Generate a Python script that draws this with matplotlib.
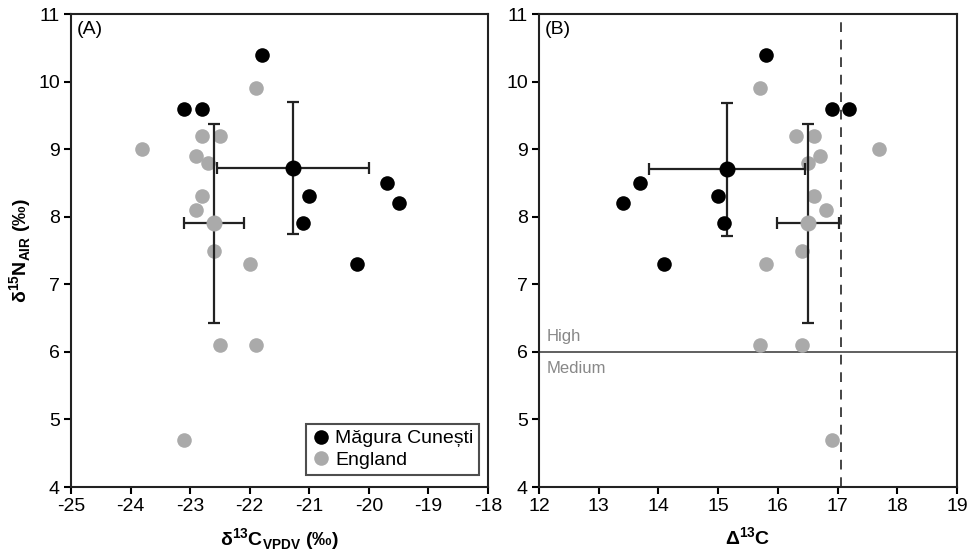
import matplotlib
matplotlib.use("Agg")
import matplotlib.pyplot as plt
from matplotlib.lines import Line2D

plt.rcParams['font.family'] = ['Liberation Sans', 'DejaVu Sans']
plt.rcParams['mathtext.fontset'] = 'custom'
plt.rcParams['mathtext.rm'] = 'Liberation Sans'
plt.rcParams['mathtext.bf'] = 'Liberation Sans:bold'
plt.rcParams['axes.unicode_minus'] = False

# Magura Cunesti (black) individuals
mc_d13c = [-21.8, -23.1, -22.8, -19.7, -21.0, -19.5, -21.1, -20.2]
mc_cap = [15.8, 16.9, 17.2, 13.7, 15.0, 13.4, 15.1, 14.1]
mc_d15n = [10.4, 9.6, 9.6, 8.5, 8.3, 8.2, 7.9, 7.3]

# England (grey) individuals
en_d13c = [-21.9, -23.8, -22.8, -22.5, -22.9, -22.7, -22.8, -22.9, -22.6, -22.0, -22.5, -21.9, -23.1]
en_d15n = [9.9, 9.0, 9.2, 9.2, 8.9, 8.8, 8.3, 8.1, 7.5, 7.3, 6.1, 6.1, 4.7]
en_cap = [15.7, 17.7, 16.3, 16.6, 16.7, 16.5, 16.6, 16.8, 16.4, 15.8, 15.7, 16.4, 16.9]

# group means +/- sd  (x, y, xerr, yerr)
mc_mean_a = (-21.27, 8.72, 1.27, 0.98)
en_mean_a = (-22.6, 7.9, 0.5, 1.47)
mc_mean_b = (15.15, 8.7, 1.31, 0.98)
en_mean_b = (16.5, 7.9, 0.52, 1.47)

threshold_x = 17.06
trophic_y = 6

black = '#000000'
grey = '#aaaaaa'
ms = 10.5
fs = 14

fig = plt.figure(figsize=(9.72, 5.56), dpi=100)
ax1 = fig.add_axes([0.073, 0.1241, 0.429, 0.8507])
ax2 = fig.add_axes([0.5545, 0.1241, 0.430, 0.8507])


def draw_mean(ax, m, color):
    ax.errorbar(m[0], m[1], xerr=m[2], yerr=m[3], fmt='o', color=color, ms=ms,
                ecolor='#222222', elinewidth=1.6, capsize=4, capthick=1.6, zorder=3)


# panel A
ax1.plot(en_d13c, en_d15n, 'o', color=grey, ms=ms, mec='none', zorder=2)
draw_mean(ax1, en_mean_a, grey)
ax1.plot(mc_d13c, mc_d15n, 'o', color=black, ms=ms, mec='none', zorder=4)
draw_mean(ax1, mc_mean_a, black)

ax1.set_xlim(-25, -18)
ax1.set_ylim(4, 11)
ax1.set_xticks(range(-25, -17))
ax1.set_xlabel(r'δ$^{\mathbf{13}}$C$_{\mathbf{VPDV}}$ (‰)', fontsize=fs, fontweight='bold', labelpad=8)
ax1.set_ylabel(r'δ$^{\mathbf{15}}$N$_{\mathbf{AIR}}$ (‰)', fontsize=fs, fontweight='bold', labelpad=3)
ax1.text(0.015, 0.985, '(A)', transform=ax1.transAxes, fontsize=fs, va='top', ha='left')

handles = [Line2D([], [], marker='o', ls='none', color=black, ms=ms, mec='none'),
           Line2D([], [], marker='o', ls='none', color=grey, ms=ms, mec='none')]
leg = ax1.legend(handles, ['Măgura Cunești', 'England'], loc='lower right',
                 fontsize=fs, frameon=True, fancybox=False, handletextpad=0.2,
                 handlelength=1.0, borderpad=0.3, labelspacing=0.2,
                 borderaxespad=0, bbox_to_anchor=(0.979, 0.026))
leg.get_frame().set_edgecolor('#222222')
leg.get_frame().set_linewidth(1.5)

# panel B
ax2.axhline(trophic_y, color='#444444', lw=1.2, zorder=1)
ax2.axvline(threshold_x, color='#444444', lw=1.4, ls=(0, (5, 4)), zorder=1)
ax2.plot(en_cap, en_d15n, 'o', color=grey, ms=ms, mec='none', zorder=2)
draw_mean(ax2, en_mean_b, grey)
ax2.plot(mc_cap, mc_d15n, 'o', color=black, ms=ms, mec='none', zorder=4)
draw_mean(ax2, mc_mean_b, black)

ax2.set_xlim(12, 19)
ax2.set_ylim(4, 11)
ax2.set_xticks(range(12, 20))
ax2.set_xlabel(r'Δ$^{\mathbf{13}}$C', fontsize=fs, fontweight='bold', labelpad=8)
ax2.text(0.015, 0.985, '(B)', transform=ax2.transAxes, fontsize=fs, va='top', ha='left')
ax2.text(12.12, 6.12, 'High', color='#888888', fontsize=12, va='bottom')
ax2.text(12.12, 5.86, 'Medium', color='#888888', fontsize=12, va='top')

for ax in (ax1, ax2):
    ax.set_yticks(range(4, 12))
    ax.tick_params(labelsize=fs, length=5, width=1.5, direction='out', pad=3)
    for s in ax.spines.values():
        s.set_linewidth(1.5)
        s.set_color('#222222')

fig.savefig('out.png', dpi=100)
